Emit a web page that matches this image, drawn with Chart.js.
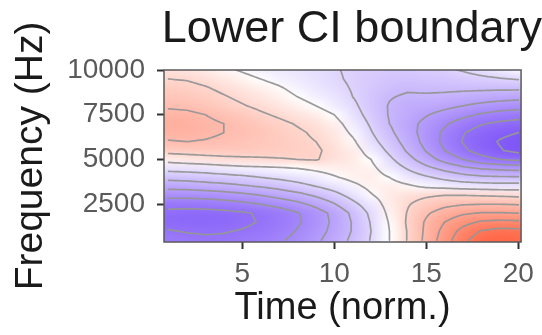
<!DOCTYPE html>
<html>
<head>
  <title>Lower CI boundary</title>
  <script src="https://cdn.jsdelivr.net/npm/chart.js@4.4.0/dist/chart.umd.min.js"></script>
  <style>
    body { margin: 0; background: #fff; }
  </style>
</head>
<body>
  <canvas id="myChart" width="542" height="335"></canvas>
  <script>
    // grid: time columns, frequency rows (top row = 10000 Hz)
    var times = [1, 2, 3, 4, 5, 6, 7, 8, 9, 10, 11, 12, 13, 14, 15, 16, 17, 18, 19, 20];
    var freqs = [10000, 9500, 9000, 8500, 8000, 7500, 7000, 6500, 6000, 5500,
                 5000, 4500, 4000, 3500, 3000, 2500, 2000, 1500, 1000, 500];
    var xTicks = [5, 10, 15, 20];
    var yTicks = [2500, 5000, 7500, 10000];
    var levels = [-0.9, -0.75, -0.6, -0.45, -0.3, -0.15, 0, 0.15, 0.3, 0.45, 0.6, 0.75];

    // values (row per frequency, column per time)
    var z = [
      [0.10, 0.09, 0.06, 0.02, -0.01, -0.04, -0.06, -0.08, -0.10, -0.14, -0.17, -0.19, -0.20, -0.20, -0.19, -0.17, -0.14, -0.10, -0.06, -0.02],
      [0.15, 0.14, 0.11, 0.07, 0.03, 0.00, -0.03, -0.06, -0.09, -0.13, -0.17, -0.20, -0.23, -0.24, -0.23, -0.22, -0.20, -0.18, -0.16, -0.14],
      [0.20, 0.19, 0.16, 0.12, 0.08, 0.04, 0.01, -0.03, -0.07, -0.11, -0.16, -0.21, -0.26, -0.28, -0.27, -0.27, -0.27, -0.27, -0.27, -0.27],
      [0.24, 0.23, 0.20, 0.16, 0.12, 0.08, 0.04, 0.00, -0.04, -0.08, -0.15, -0.22, -0.29, -0.32, -0.32, -0.33, -0.35, -0.37, -0.39, -0.40],
      [0.28, 0.27, 0.24, 0.20, 0.16, 0.12, 0.08, 0.04, 0.00, -0.05, -0.12, -0.22, -0.31, -0.36, -0.38, -0.41, -0.45, -0.49, -0.52, -0.54],
      [0.34, 0.33, 0.30, 0.26, 0.22, 0.17, 0.13, 0.09, 0.05, 0.00, -0.09, -0.20, -0.31, -0.38, -0.44, -0.50, -0.56, -0.62, -0.66, -0.68],
      [0.37, 0.36, 0.33, 0.30, 0.26, 0.22, 0.18, 0.14, 0.10, 0.04, -0.05, -0.17, -0.30, -0.40, -0.49, -0.58, -0.67, -0.74, -0.78, -0.81],
      [0.35, 0.35, 0.33, 0.30, 0.27, 0.24, 0.20, 0.17, 0.13, 0.07, -0.02, -0.14, -0.27, -0.39, -0.51, -0.63, -0.74, -0.82, -0.87, -0.90],
      [0.29, 0.30, 0.29, 0.27, 0.25, 0.23, 0.21, 0.18, 0.15, 0.09, 0.02, -0.10, -0.23, -0.36, -0.50, -0.64, -0.76, -0.85, -0.91, -0.95],
      [0.20, 0.21, 0.22, 0.22, 0.22, 0.21, 0.20, 0.19, 0.17, 0.11, 0.05, -0.05, -0.18, -0.32, -0.46, -0.60, -0.72, -0.82, -0.89, -0.94],
      [0.05, 0.07, 0.09, 0.11, 0.12, 0.13, 0.14, 0.15, 0.16, 0.10, 0.06, 0.00, -0.12, -0.25, -0.38, -0.50, -0.60, -0.69, -0.75, -0.78],
      [-0.10, -0.09, -0.08, -0.06, -0.04, -0.03, -0.02, 0.00, 0.02, 0.04, 0.05, 0.03, -0.06, -0.16, -0.26, -0.34, -0.41, -0.46, -0.48, -0.50],
      [-0.25, -0.24, -0.22, -0.20, -0.18, -0.15, -0.12, -0.09, -0.05, -0.01, 0.03, 0.05, 0.00, -0.07, -0.13, -0.19, -0.24, -0.27, -0.28, -0.28],
      [-0.40, -0.39, -0.37, -0.35, -0.32, -0.29, -0.25, -0.20, -0.15, -0.09, -0.03, 0.03, 0.05, 0.02, -0.02, -0.04, -0.06, -0.07, -0.08, -0.08],
      [-0.55, -0.55, -0.54, -0.52, -0.49, -0.45, -0.40, -0.35, -0.28, -0.20, -0.10, -0.01, 0.06, 0.10, 0.13, 0.15, 0.15, 0.14, 0.13, 0.12],
      [-0.70, -0.70, -0.69, -0.67, -0.64, -0.60, -0.55, -0.49, -0.41, -0.31, -0.19, -0.07, 0.05, 0.14, 0.21, 0.26, 0.29, 0.30, 0.30, 0.29],
      [-0.79, -0.80, -0.80, -0.79, -0.77, -0.73, -0.68, -0.61, -0.52, -0.41, -0.27, -0.12, 0.03, 0.16, 0.28, 0.37, 0.43, 0.46, 0.46, 0.45],
      [-0.80, -0.81, -0.81, -0.80, -0.78, -0.74, -0.69, -0.62, -0.53, -0.42, -0.29, -0.14, 0.01, 0.17, 0.32, 0.45, 0.55, 0.62, 0.64, 0.63],
      [-0.74, -0.76, -0.77, -0.76, -0.74, -0.71, -0.66, -0.59, -0.51, -0.41, -0.29, -0.15, 0.00, 0.16, 0.33, 0.50, 0.65, 0.76, 0.80, 0.79],
      [-0.68, -0.71, -0.72, -0.72, -0.70, -0.67, -0.62, -0.56, -0.48, -0.38, -0.27, -0.14, 0.00, 0.16, 0.34, 0.53, 0.71, 0.84, 0.88, 0.86]
    ];

    var FONT = '"Liberation Sans", Arial, sans-serif';
    var lowColor = [122, 79, 248];
    var highColor = [255, 88, 52];

    // white in the middle, purple below, red above
    function fillColor(v) {
      var f = Math.min(1, Math.pow(Math.abs(v), 0.75));
      var end = v < 0 ? lowColor : highColor;
      return [0, 1, 2].map(function(i) { return Math.round(255 + (end[i] - 255) * f); });
    }

    function valueAt(u, w) {
      var nx = times.length, ny = freqs.length;
      var c0 = Math.min(Math.floor(u), nx - 2), r0 = Math.min(Math.floor(w), ny - 2);
      var fu = u - c0, fw = w - r0;
      return z[r0][c0] * (1 - fu) * (1 - fw) + z[r0][c0 + 1] * fu * (1 - fw) +
             z[r0 + 1][c0] * (1 - fu) * fw + z[r0 + 1][c0 + 1] * fu * fw;
    }

    var heatmapPlugin = {
      id: 'heatmap',
      beforeDatasetsDraw: function(chart) {
        var ctx = chart.ctx, xs = chart.scales.x, ys = chart.scales.y, area = chart.chartArea;
        var nx = times.length, ny = freqs.length;
        var off = document.createElement('canvas');
        off.width = nx; off.height = ny;
        var octx = off.getContext('2d');
        var img = octx.createImageData(nx, ny);
        for (var r = 0; r < ny; r++) {
          for (var c = 0; c < nx; c++) {
            var col = fillColor(z[r][c]), k = (r * nx + c) * 4;
            img.data[k] = col[0]; img.data[k + 1] = col[1]; img.data[k + 2] = col[2]; img.data[k + 3] = 255;
          }
        }
        octx.putImageData(img, 0, 0);
        var dx = (times[1] - times[0]) / 2, dy = (freqs[0] - freqs[1]) / 2;
        var x0 = xs.getPixelForValue(times[0] - dx), x1 = xs.getPixelForValue(times[nx - 1] + dx);
        var y0 = ys.getPixelForValue(freqs[0] + dy), y1 = ys.getPixelForValue(freqs[ny - 1] - dy);
        ctx.save();
        ctx.beginPath();
        ctx.rect(area.left, area.top, area.right - area.left, area.bottom - area.top);
        ctx.clip();
        ctx.imageSmoothingEnabled = true;
        ctx.imageSmoothingQuality = 'high';
        ctx.drawImage(off, x0, y0, x1 - x0, y1 - y0);
        ctx.restore();
      },
      afterDatasetsDraw: function(chart) {
        var ctx = chart.ctx, xs = chart.scales.x, ys = chart.scales.y, area = chart.chartArea;
        var sub = 6;
        var nu = (times.length - 1) * sub + 1, nw = (freqs.length - 1) * sub + 1;
        var g = [];
        for (var j = 0; j < nw; j++) {
          g[j] = [];
          for (var i = 0; i < nu; i++) g[j][i] = valueAt(i / sub, j / sub);
        }
        function px(u) { return xs.getPixelForValue(times[0] + u / sub * (times[1] - times[0])); }
        function py(w) { return ys.getPixelForValue(freqs[0] + w / sub * (freqs[1] - freqs[0])); }

        ctx.save();
        ctx.beginPath();
        ctx.rect(area.left, area.top, area.right - area.left, area.bottom - area.top);
        ctx.clip();
        ctx.strokeStyle = 'rgba(150,150,150,0.95)';
        ctx.lineWidth = 1.7;
        ctx.lineCap = 'round';
        levels.forEach(function(L) {
          ctx.beginPath();
          for (var j = 0; j < nw - 1; j++) {
            for (var i = 0; i < nu - 1; i++) {
              var a = g[j][i], b = g[j][i + 1], c = g[j + 1][i + 1], d = g[j + 1][i];
              var pts = [];
              if ((a < L) !== (b < L)) pts.push([px(i + (L - a) / (b - a)), py(j)]);
              if ((b < L) !== (c < L)) pts.push([px(i + 1), py(j + (L - b) / (c - b))]);
              if ((d < L) !== (c < L)) pts.push([px(i + (L - d) / (c - d)), py(j + 1)]);
              if ((a < L) !== (d < L)) pts.push([px(i), py(j + (L - a) / (d - a))]);
              if (pts.length >= 2) {
                ctx.moveTo(pts[0][0], pts[0][1]);
                ctx.lineTo(pts[1][0], pts[1][1]);
              }
              if (pts.length === 4) {
                ctx.moveTo(pts[2][0], pts[2][1]);
                ctx.lineTo(pts[3][0], pts[3][1]);
              }
            }
          }
          ctx.stroke();
        });
        ctx.restore();

        // panel frame
        ctx.save();
        ctx.strokeStyle = '#5a5a5a';
        ctx.lineWidth = 1.5;
        ctx.strokeRect(area.left, area.top, area.right - area.left, area.bottom - area.top);
        ctx.restore();
      }
    };

    var ctx = document.getElementById('myChart').getContext('2d');
    var myChart = new Chart(ctx, {
      type: 'scatter',
      data: { datasets: [{ data: [] }] },
      plugins: [heatmapPlugin],
      options: {
        responsive: false,
        animation: false,
        layout: { padding: 0 },
        plugins: {
          legend: { display: false },
          tooltip: { enabled: false },
          title: {
            display: true,
            text: 'Lower CI boundary',
            align: 'end',
            color: '#1a1a1a',
            font: { family: FONT, size: 45, weight: 'normal', lineHeight: 1.2 },
            padding: { top: 3, bottom: 13 }
          }
        },
        scales: {
          x: {
            type: 'linear',
            min: 0.75,
            max: 20.15,
            afterFit: function(s) { s.height = 93; },
            afterBuildTicks: function(s) { s.ticks = xTicks.map(function(v) { return { value: v }; }); },
            grid: { drawOnChartArea: false, drawTicks: true, tickLength: 7, tickColor: '#333', tickWidth: 2 },
            border: { display: false },
            ticks: {
              color: '#5a5a5a', padding: 8, maxRotation: 0, font: { family: FONT, size: 28 },
              callback: function(v) { return String(v); }
            },
            title: {
              display: true, text: 'Time (norm.)', color: '#1a1a1a',
              font: { family: FONT, size: 38, weight: 'normal', lineHeight: 1.2 },
              padding: { top: 0, bottom: 4 }
            }
          },
          y: {
            type: 'linear',
            min: 390,
            max: 10000,
            afterFit: function(s) { s.width = 164; },
            afterBuildTicks: function(s) { s.ticks = yTicks.map(function(v) { return { value: v }; }); },
            grid: { drawOnChartArea: false, drawTicks: true, tickLength: 7, tickColor: '#333', tickWidth: 2 },
            border: { display: false },
            ticks: {
              color: '#5a5a5a', padding: 12, font: { family: FONT, size: 28 },
              callback: function(v) { return String(v); }
            },
            title: {
              display: true, text: 'Frequency (Hz)', color: '#1a1a1a',
              font: { family: FONT, size: 39, weight: 'normal', lineHeight: 1.2 },
              padding: { top: 8, bottom: 0 }
            }
          },
          // empty strip on the right so the panel ends where the reference does
          y2: {
            type: 'linear',
            position: 'right',
            afterFit: function(s) { s.width = 16; },
            ticks: { display: false },
            grid: { display: false },
            border: { display: false }
          }
        }
      }
    });
  </script>
</body>
</html>
